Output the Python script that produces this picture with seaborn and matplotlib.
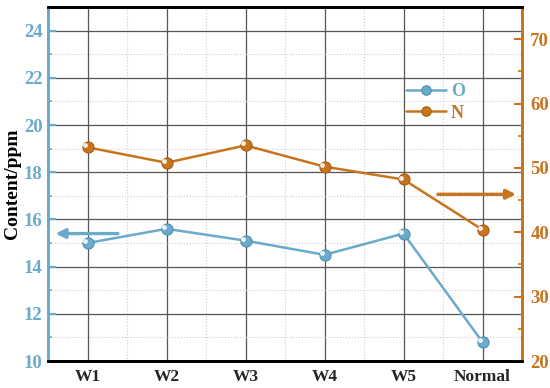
import matplotlib
matplotlib.use("Agg")
import matplotlib.pyplot as plt
import seaborn as sns
import pandas as pd
from matplotlib.ticker import MultipleLocator

categories = ["W1", "W2", "W3", "W4", "W5", "Normal"]
o_values = [15.0, 15.6, 15.1, 14.5, 15.4, 10.8]
n_values = [53.2, 50.8, 53.5, 50.2, 48.2, 40.4]

blue = "#6aaacb"
orange = "#c8741f"

sns.set_style("white")
plt.rcParams["font.family"] = ["Liberation Serif", "DejaVu Serif"]
plt.rcParams["font.weight"] = "bold"

fig = plt.figure(figsize=(5.5, 3.88), dpi=100)
ax = fig.add_axes([48/550, 1-361/388, (522-48)/550, (361-7)/388])
ax2 = ax.twinx()

x = list(range(len(categories)))
df_o = pd.DataFrame({"x": x, "v": o_values})
df_n = pd.DataFrame({"x": x, "v": n_values})

sns.lineplot(data=df_o, x="x", y="v", ax=ax, color=blue, lw=1.8, marker="o",
             markersize=8, markeredgecolor="#4f8fb2", markeredgewidth=0.8, label="O", zorder=5)
sns.lineplot(data=df_n, x="x", y="v", ax=ax2, color=orange, lw=1.8, marker="o",
             markersize=8, markeredgecolor="#a85c12", markeredgewidth=0.8, label="N", zorder=5)

# highlights on spheres
ax.plot(df_o["x"] - 0.03, df_o["v"] + 0.08, "o", color="white", ms=2.5, alpha=0.8, zorder=6)
ax2.plot(df_n["x"] - 0.03, df_n["v"] + 0.3, "o", color="white", ms=2.5, alpha=0.8, zorder=6)

ax.set_xlim(-0.5, 5.5)
ax.set_ylim(10, 25)
ax2.set_ylim(20, 75)

ax.set_xticks(x)
ax.set_xticklabels(categories, fontsize=12.5, fontweight="bold")
ax.xaxis.set_minor_locator(MultipleLocator(0.5))
ax.yaxis.set_major_locator(MultipleLocator(2))
ax.yaxis.set_minor_locator(MultipleLocator(1))
ax2.yaxis.set_major_locator(MultipleLocator(10))
ax2.yaxis.set_minor_locator(MultipleLocator(5))

ax.grid(which="major", color="#555555", lw=0.9, ls="-")
ax.grid(which="minor", color="#cccccc", lw=0.8, ls=":")
ax.set_axisbelow(True)

ax.set_xlabel("")
ax.set_ylabel("Content/ppm", fontsize=14, fontweight="bold", color="black", labelpad=2)
ax2.set_ylabel("")

ax.tick_params(axis="x", which="major", direction="in", length=5, width=1.5, color="black", pad=6)
ax.tick_params(axis="x", which="minor", length=0)
ax.tick_params(axis="y", which="major", direction="in", length=6, width=1.5, color=blue,
               labelcolor=blue, labelsize=13.5, pad=4)
ax.tick_params(axis="y", which="minor", direction="in", length=3, width=1.2, color=blue)
ax2.tick_params(axis="y", which="major", direction="in", length=6, width=1.5, color=orange,
                labelcolor=orange, labelsize=13.5, pad=6)
ax2.tick_params(axis="y", which="minor", direction="in", length=3, width=1.2, color=orange)
for lab in ax.get_yticklabels() + ax2.get_yticklabels():
    lab.set_fontweight("bold")

for a in (ax, ax2):
    a.spines["top"].set_color("black")
    a.spines["top"].set_linewidth(2)
    a.spines["bottom"].set_color("black")
    a.spines["bottom"].set_linewidth(2)
    a.spines["left"].set_color(blue)
    a.spines["left"].set_linewidth(2)
    a.spines["right"].set_color(orange)
    a.spines["right"].set_linewidth(2)

# arrows
ax.annotate("", xy=(-0.44, 15.4), xytext=(0.42, 15.4),
            arrowprops=dict(arrowstyle="-|>", color=blue, lw=2.4, mutation_scale=14), zorder=7)
ax2.annotate("", xy=(5.46, 45.9), xytext=(4.4, 45.9),
             arrowprops=dict(arrowstyle="-|>", color=orange, lw=2.4, mutation_scale=14), zorder=7)

# legend
h1, l1 = ax.get_legend_handles_labels()
h2, l2 = ax2.get_legend_handles_labels()
if ax.get_legend():
    ax.get_legend().remove()
if ax2.get_legend():
    ax2.get_legend().remove()
leg = ax2.legend(h1 + h2, l1 + l2, loc="upper left", bbox_to_anchor=(0.74, 0.805),
                 frameon=False, prop={"family": "Liberation Serif", "weight": "bold", "size": 13},
                 handlelength=2.2, handletextpad=0.3, labelspacing=0.25, borderaxespad=0,
                 markerscale=0.85)
for t, c in zip(leg.get_texts(), [blue, orange]):
    t.set_color(c)

fig.savefig("out.png", dpi=100)
